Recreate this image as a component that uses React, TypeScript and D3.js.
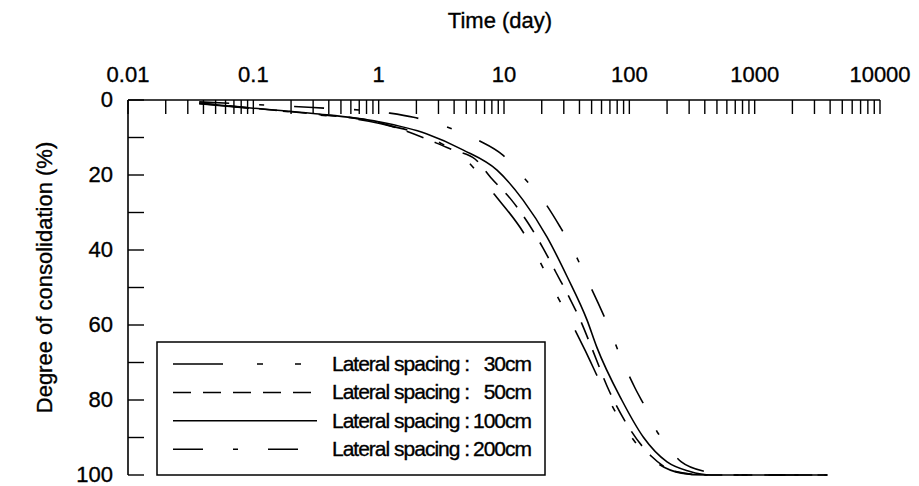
import React from "react";
import * as d3 from "d3";

const width = 919;
const height = 486;
const margin = { top: 100, right: 39, bottom: 11, left: 128 };

// top axis tick labels (log scale, day)
const xTickLabels = ["0.01", "0.1", "1", "10", "100", "1000", "10000"];
const yTickLabels = [0, 20, 40, 60, 80, 100];

const legendPrefix = "Lateral spacing :";
const spacingLabels = ["30cm", "50cm", "100cm", "200cm"];

// time (day) / degree of consolidation (%)
const time30 = [0.037, 0.1, 0.3, 1, 3, 5, 8.2, 14.2, 19.4, 26, 33.6, 44.3, 60, 80, 110, 170, 260, 400, 3800];
const degree30 = [1.0, 2.3, 3.8, 6.2, 11.2, 16, 24.8, 35.2, 43.2, 51.7, 58.7, 66.7, 76, 84, 91, 97, 99.5, 100, 100];

const time50 = [0.037, 0.1, 0.3, 1, 2.9, 3.9, 5.9, 8, 11.5, 15.7, 20.5, 26, 33, 41, 49, 70, 100, 150, 230, 400, 3800];
const degree50 = [0.8, 2.2, 3.7, 6.0, 11.5, 13.3, 15.8, 21, 26.7, 33, 39.5, 46, 52.5, 59, 65.3, 78, 87.5, 95, 99, 100, 100];

const time100 = [0.037, 0.1, 0.3, 1, 2.4, 4.7, 8.8, 14.2, 22, 32, 46, 55, 87, 130, 200, 300, 450, 3800];
const degree100 = [0.9, 2.2, 3.6, 5.8, 9.0, 13.3, 18.7, 26.7, 36.5, 47.2, 58.7, 65.9, 80, 90, 96.5, 99, 100, 100];

const time200 = [0.037, 0.1, 0.3, 1.23, 1.9, 3.5, 6.2, 9.8, 14.2, 20.5, 28, 35, 44.3, 56.3, 70, 84, 111, 138, 169, 186, 260, 417, 600, 3800];
const degree200 = [0.5, 1.2, 2.0, 3.5, 4.6, 7.2, 10.7, 14.7, 20.5, 26.7, 33.8, 39.5, 46.7, 54.1, 61.3, 68, 76.8, 82.7, 88.8, 90.7, 96.5, 99.2, 100, 100];

const dashes = ["50 34 6 32 6 32", "18 12", "", "30 30 5 30"];

const font = "'Liberation Sans', Arial, sans-serif";
// scanned print looks a bit heavier than regular weight
const ink = { fill: "#000", stroke: "#000", strokeWidth: 0.35 };

export default function App() {
  const x = d3
    .scaleLog()
    .domain([0.01, 10000])
    .range([margin.left, width - margin.right]);
  const y = d3
    .scaleLinear()
    .domain([0, 100])
    .range([margin.top, height - margin.bottom]);

  const series = [
    d3.zip(time30, degree30),
    d3.zip(time50, degree50),
    d3.zip(time100, degree100),
    d3.zip(time200, degree200),
  ];

  const line = d3
    .line<number[]>()
    .x((d) => x(d[0]))
    .y((d) => y(d[1]))
    .curve(d3.curveMonotoneX);

  // minor + major ticks on the log axis
  const xTicks: number[] = [];
  for (let e = -2; e < 4; e++) {
    for (let k = 1; k < 10; k++) xTicks.push(k * Math.pow(10, e));
  }
  xTicks.push(10000);
  const yTicks = d3.range(0, 101, 10);

  const legend = { x: 157, y: 342, w: 388, h: 133, row: 28.4 };

  return (
    <svg width={width} height={height} style={{ position: "absolute", left: 0, top: 0, background: "#fff" }}>
      <text x={500} y={28} textAnchor="middle" fontFamily={font} fontSize={22} {...ink}>
        Time (day)
      </text>
      <text
        transform={`translate(52, ${y(50) - 10}) rotate(-90)`}
        textAnchor="middle"
        fontFamily={font}
        fontSize={22}
        {...ink}
      >
        Degree of consolidation (%)
      </text>

      {/* top axis */}
      <line x1={x(0.01)} x2={x(10000)} y1={y(0)} y2={y(0)} stroke="#000" strokeWidth={1.6} />
      {xTicks.map((t, i) => (
        <line key={i} x1={x(t)} x2={x(t)} y1={y(0)} y2={y(0) + 14} stroke="#000" strokeWidth={1.4} />
      ))}
      {xTickLabels.map((s) => (
        <text key={s} x={x(+s)} y={82} textAnchor="middle" fontFamily={font} fontSize={22} {...ink}>
          {s}
        </text>
      ))}

      {/* left axis */}
      <line x1={x(0.01)} x2={x(0.01)} y1={y(0)} y2={y(100)} stroke="#000" strokeWidth={1.6} />
      {yTicks.map((v) => (
        <line key={v} x1={x(0.01)} x2={x(0.01) + 16} y1={y(v)} y2={y(v)} stroke="#000" strokeWidth={1.4} />
      ))}
      {yTickLabels.map((v) => (
        <text key={v} x={113} y={y(v) + 7} textAnchor="end" fontFamily={font} fontSize={22} {...ink}>
          {v}
        </text>
      ))}

      {/* curves */}
      {series.map((s, i) => (
        <path
          key={i}
          d={line(s) || ""}
          fill="none"
          stroke="#000"
          strokeWidth={1.6}
          strokeDasharray={dashes[i] || undefined}
        />
      ))}

      {/* legend */}
      <rect x={legend.x} y={legend.y} width={legend.w} height={legend.h} fill="#fff" stroke="#000" strokeWidth={1.5} />
      {spacingLabels.map((lab, i) => {
        const cy = legend.y + 22 + i * legend.row;
        return (
          <g key={lab}>
            <line
              x1={173}
              x2={317}
              y1={cy}
              y2={cy}
              stroke="#000"
              strokeWidth={1.5}
              strokeDasharray={dashes[i] || undefined}
            />
            <text x={332} y={cy + 7} fontFamily={font} fontSize={21} letterSpacing={-1} {...ink}>
              {legendPrefix}
            </text>
            <text x={531} y={cy + 7} textAnchor="end" fontFamily={font} fontSize={21} letterSpacing={-1} {...ink}>
              {lab}
            </text>
          </g>
        );
      })}
    </svg>
  );
}
